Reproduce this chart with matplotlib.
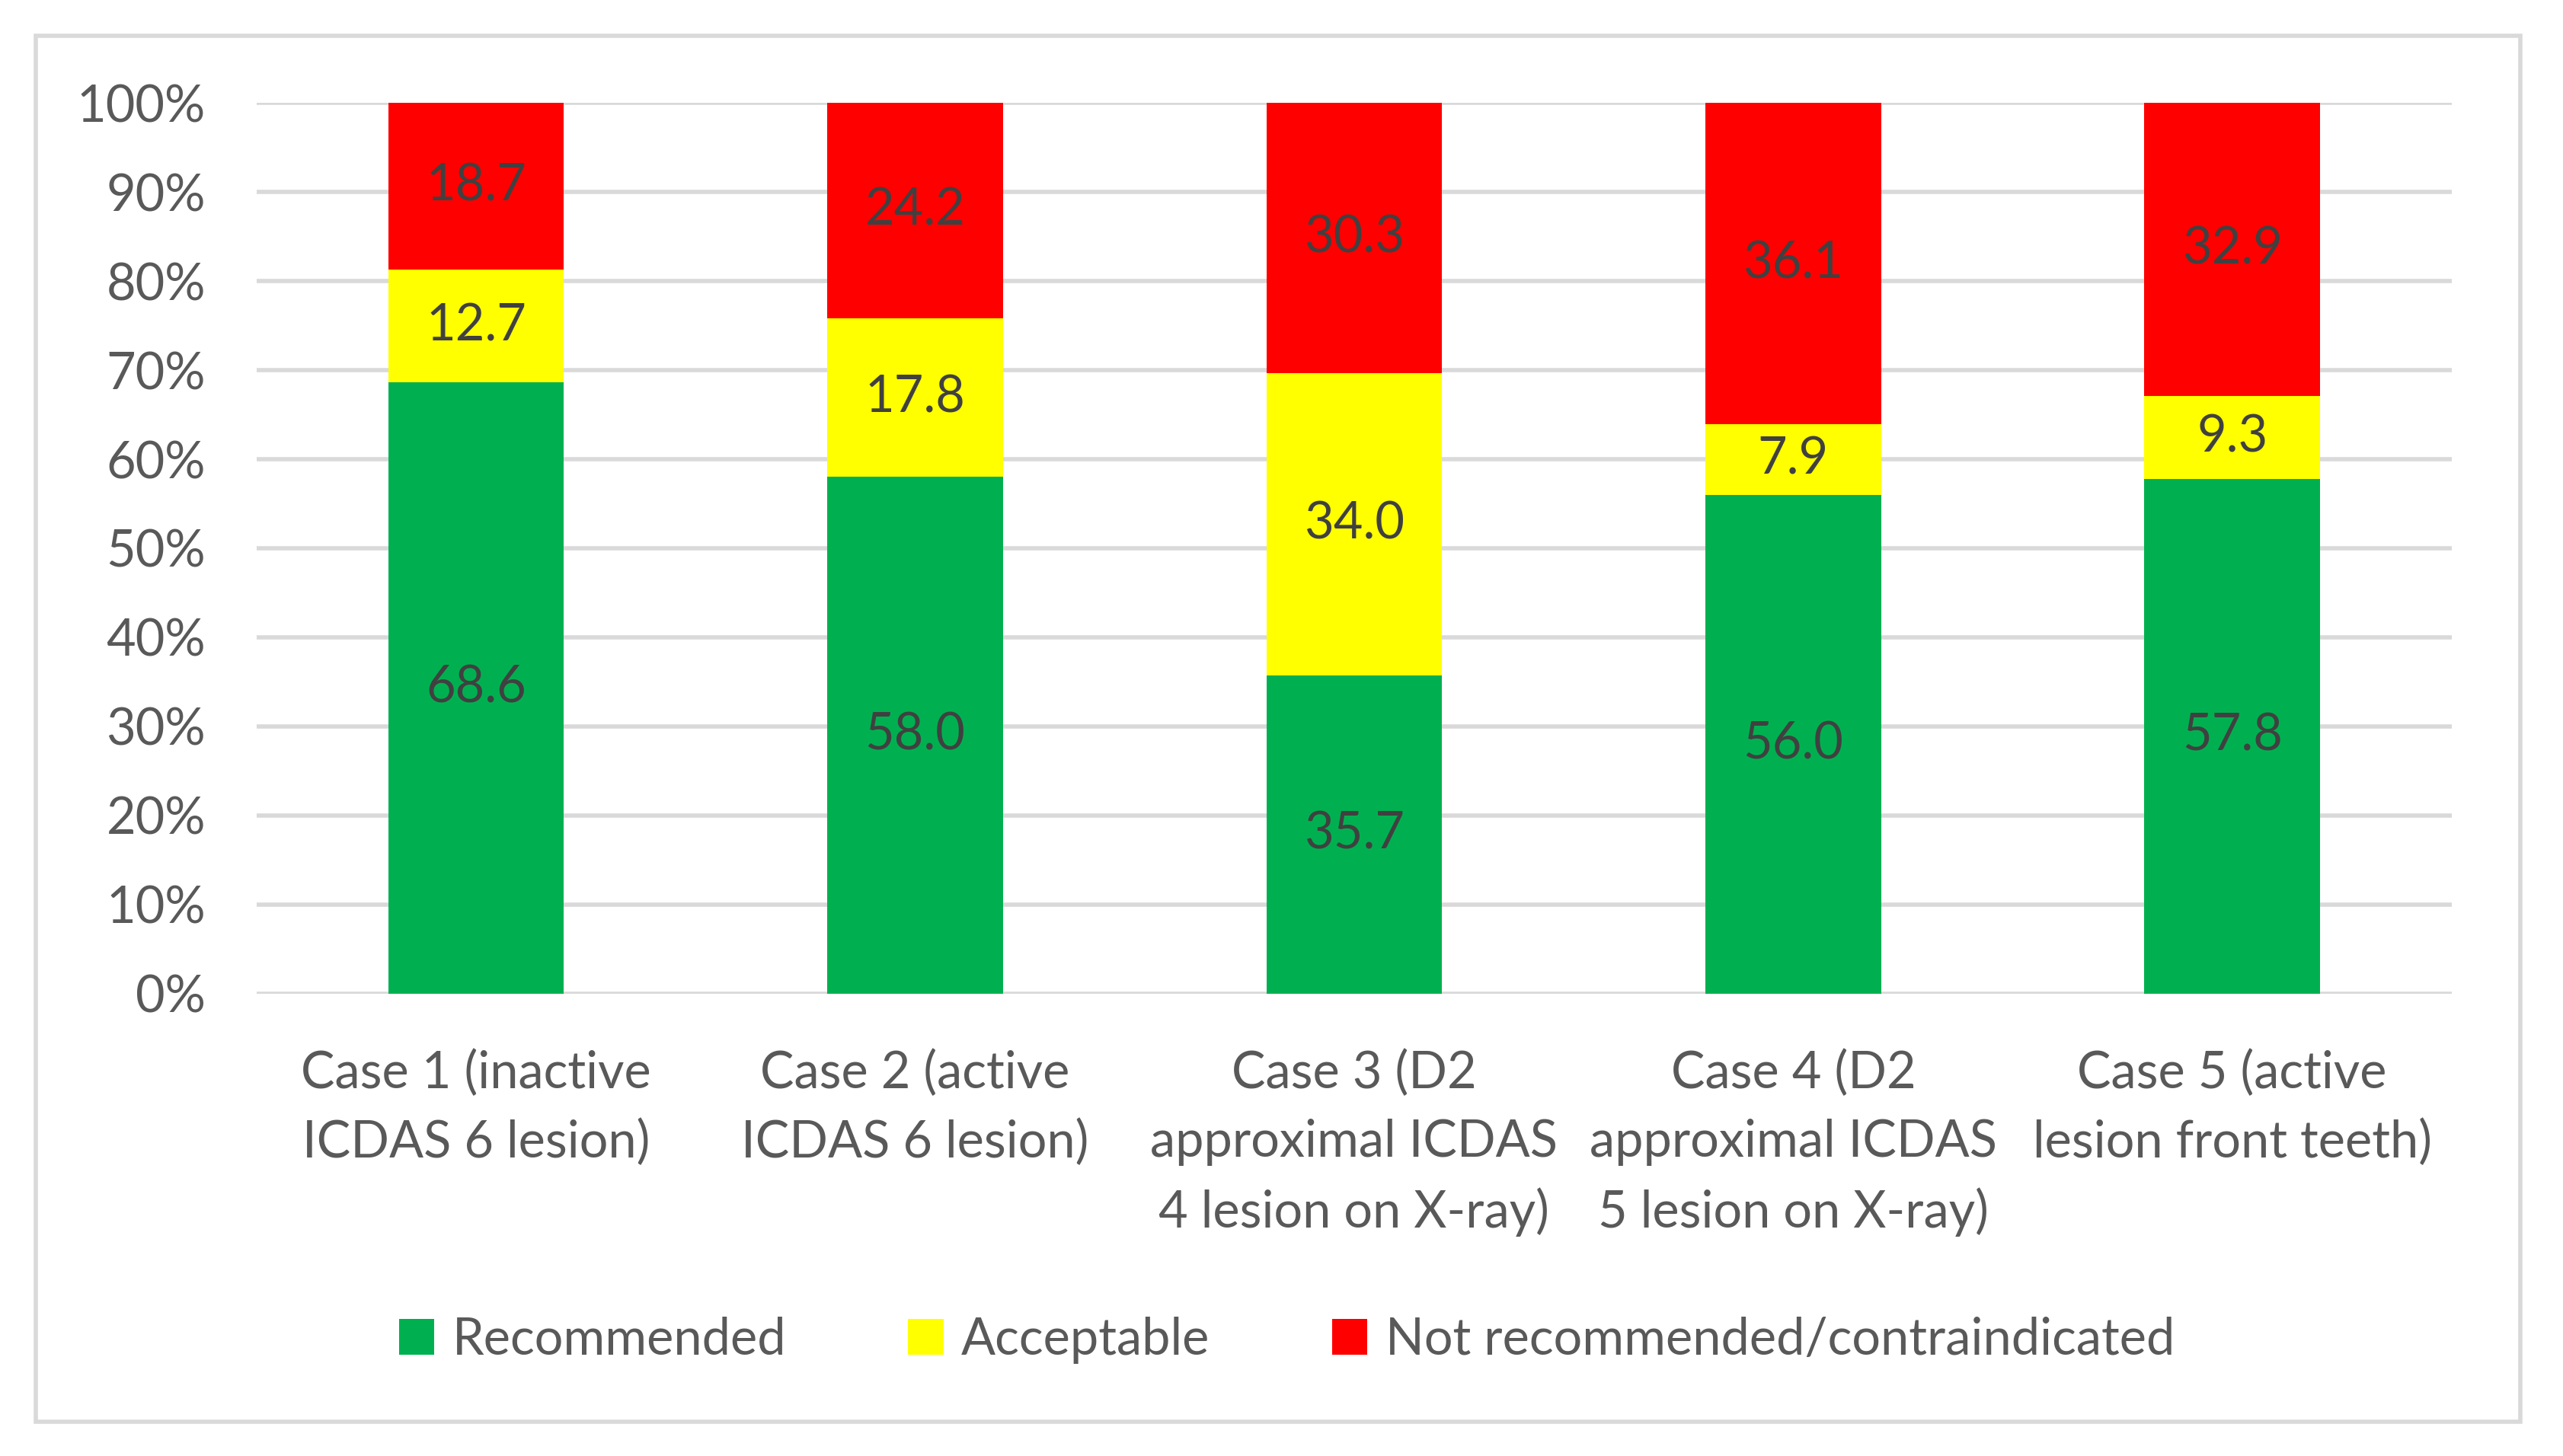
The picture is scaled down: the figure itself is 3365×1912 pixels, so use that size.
import matplotlib
matplotlib.use("Agg")
import matplotlib.pyplot as plt
from matplotlib.patches import Rectangle
import numpy as np

plt.rcParams['font.family'] = ['Lato', 'DejaVu Sans']

cases = ["Case 1 (inactive\nICDAS 6 lesion)",
         "Case 2 (active\nICDAS 6 lesion)",
         "Case 3 (D2\napproximal ICDAS\n4 lesion on X-ray)",
         "Case 4 (D2\napproximal ICDAS\n5 lesion on X-ray)",
         "Case 5 (active\nlesion front teeth)"]
recommended = [68.6, 58.0, 35.7, 56.0, 57.8]
acceptable = [12.7, 17.8, 34.0, 7.9, 9.3]
not_recommended = [18.7, 24.2, 30.3, 36.1, 32.9]
series_names = ["Recommended", "Acceptable", "Not recommended/contraindicated"]
colors = ["#00B050", "#FFFF00", "#FF0000"]

fig = plt.figure(figsize=(33.65, 19.12), dpi=100)
ax = fig.add_axes([0.1001, 0.3176, 0.8565, 0.6117])

x = np.arange(len(cases))
bottom = np.zeros(len(cases))
for vals, name, col in zip([recommended, acceptable, not_recommended], series_names, colors):
    bars = ax.bar(x, vals, 0.4, bottom=bottom, color=col, label=name, zorder=3)
    for b, v, bt in zip(bars, vals, bottom):
        ax.text(b.get_x() + b.get_width() / 2, bt + v / 2, f"{v:.1f}",
                ha="center", va="center", fontsize=48, color="#404040", zorder=4)
    bottom += np.array(vals)

ax.set_xlim(-0.5, len(cases) - 0.5)
ax.set_ylim(0, 100)
ax.set_yticks(np.arange(0, 101, 10))
ax.set_yticklabels([f"{t}%" for t in range(0, 101, 10)])
ax.set_xticks(x)
ax.set_xticklabels(cases, linespacing=1.55)
ax.tick_params(axis="both", length=0, labelsize=48, colors="#595959")
ax.tick_params(axis="y", pad=48)
ax.tick_params(axis="x", pad=53)
ax.grid(axis="y", color="#D9D9D9", linewidth=4, zorder=0)
for s in ax.spines.values():
    s.set_visible(False)

fig.legend(loc="center", bbox_to_anchor=(0.502, 0.0796), ncol=3, frameon=False,
           fontsize=48, labelcolor="#595959", handlelength=0.7, handleheight=0.7,
           handletextpad=0.35, columnspacing=2.4)

fig.patches.append(Rectangle((22 / 1568, 1 - 870 / 891), 1520 / 1568, 848 / 891,
                             transform=fig.transFigure, fill=False,
                             edgecolor="#D9D9D9", linewidth=4))

fig.savefig("out.png", dpi=100, facecolor="white")
